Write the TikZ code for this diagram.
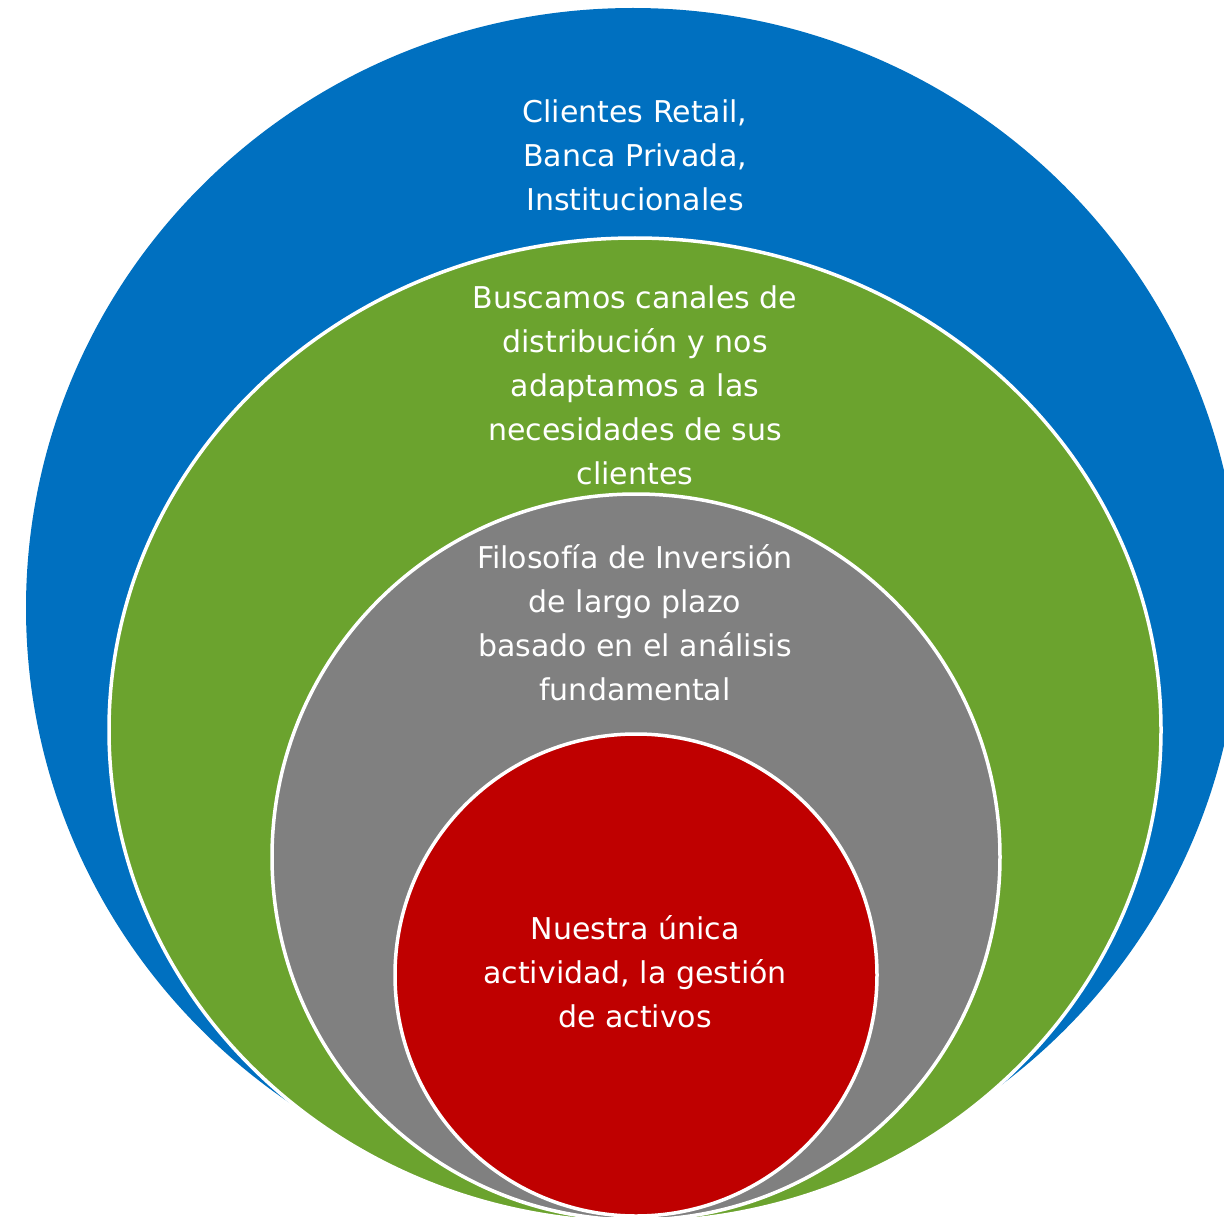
\documentclass[tikz,border=0pt]{standalone}
\usepackage{fontspec}
\setmainfont{DejaVu Sans}
\usepackage{tikz}
\definecolor{ringblue}{HTML}{0070C0}
\definecolor{ringgreen}{HTML}{6BA32E}
\definecolor{ringgray}{HTML}{808080}
\definecolor{ringred}{HTML}{BF0000}
\tikzset{
	ring/.style = {
		draw=white,
		line width=3.5pt
	},
	ringtext/.style = {
		text=white,
		align=center,
		inner sep=0pt,
		font=\fontsize{30}{44}\selectfont
	}
}
\begin{document}
\begin{tikzpicture}[x=1pt,y=-1pt]
				\useasboundingbox (0,0) rectangle (1224,1217);
				\clip (0,0) rectangle (1224,1217);
				\fill[ringblue] (633,608) ellipse [x radius=607, y radius=600];
				\filldraw[ring, fill=ringgreen] (635,730) ellipse [x radius=526, y radius=492];
				\filldraw[ring, fill=ringgray] (636,857) ellipse [x radius=364, y radius=363];
				\filldraw[ring, fill=ringred] (636,975) circle [radius=241];
				\node[ringtext] (clientes) at (635,155) {Clientes Retail,\\Banca Privada,\\Institucionales};
				\node[ringtext] (canales) at (635,385) {Buscamos canales de\\distribución y nos\\adaptamos a las\\necesidades de sus\\clientes};
				\node[ringtext] (filosofia) at (635,623) {Filosofía de Inversión\\de largo plazo\\basado en el análisis\\fundamental};
				\node[ringtext] (gestion) at (635,972) {Nuestra única\\actividad, la gestión\\de activos};
			\end{tikzpicture}
\end{document}
